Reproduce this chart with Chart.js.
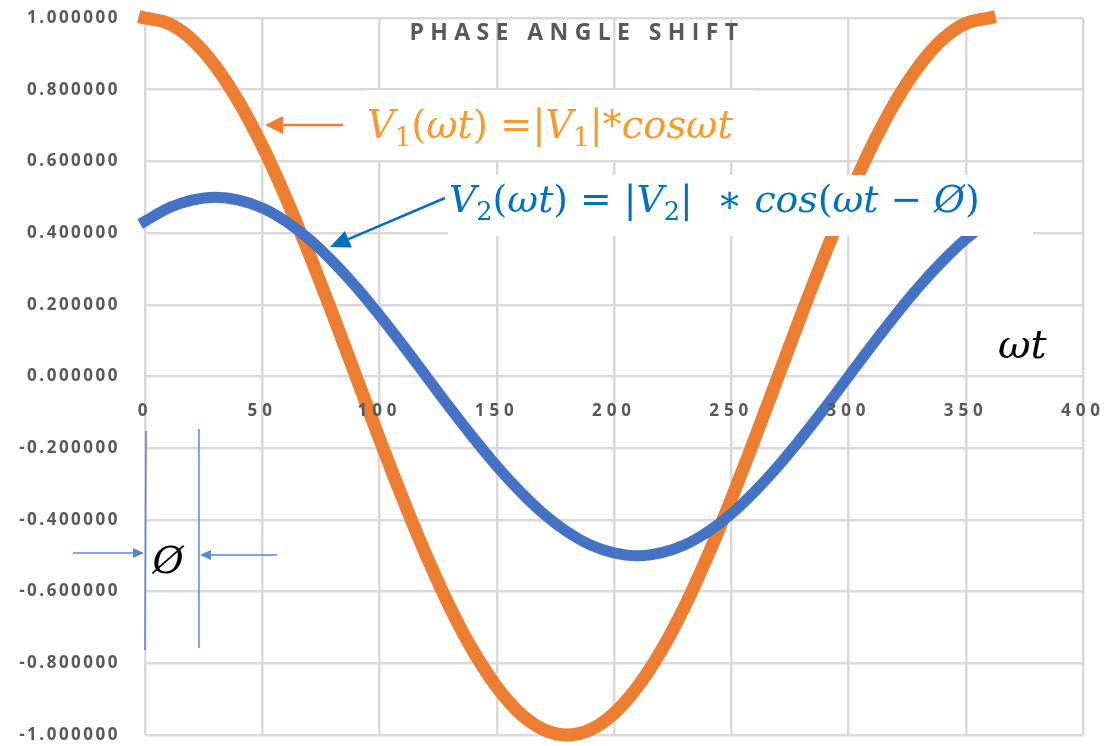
<!DOCTYPE html>
<html>
<head>
<meta charset="utf-8">
<title>Phase Angle Shift</title>
<script src="https://cdn.jsdelivr.net/npm/chart.js@4.4.1/dist/chart.umd.min.js"></script>
<style>
  html, body { margin: 0; padding: 0; background: #ffffff; }
  #wrap { width: 1114px; height: 746px; position: relative; }
</style>
</head>
<body>
<div id="wrap"><canvas id="chart" width="1114" height="746"></canvas></div>
<script>
// Angle samples (degrees) and the two waveforms
const ANGLES = [0, 10, 20, 30, 40, 50, 60, 70, 80, 90, 100, 110, 120, 130, 140, 150, 160, 170, 180,
                190, 200, 210, 220, 230, 240, 250, 260, 270, 280, 290, 300, 310, 320, 330, 340, 350, 360];
const V1 = [1.000, 0.985, 0.940, 0.866, 0.766, 0.643, 0.500, 0.342, 0.174, 0.000,
            -0.174, -0.342, -0.500, -0.643, -0.766, -0.866, -0.940, -0.985, -1.000,
            -0.985, -0.940, -0.866, -0.766, -0.643, -0.500, -0.342, -0.174, 0.000,
            0.174, 0.342, 0.500, 0.643, 0.766, 0.866, 0.940, 0.985, 1.000];
const V2 = [0.433, 0.470, 0.492, 0.500, 0.492, 0.470, 0.433, 0.383, 0.321, 0.250,
            0.171, 0.087, 0.000, -0.087, -0.171, -0.250, -0.321, -0.383, -0.433,
            -0.470, -0.492, -0.500, -0.492, -0.470, -0.433, -0.383, -0.321, -0.250,
            -0.171, -0.087, 0.000, 0.087, 0.171, 0.250, 0.321, 0.383, 0.433];

// Axis settings
const X_MIN = 0, X_MAX = 400, X_STEP = 50;
const Y_MIN = -1, Y_MAX = 1, Y_STEP = 0.2;
const TITLE = 'PHASE ANGLE SHIFT';
const PHASE_DEG = 23;   // width of the phase marker on the angle axis

const GRID = '#d9d9d9';
const AXIS_TEXT = '#595959';
const ORANGE = '#ed7d31';
const BLUE = '#4472c4';

const toPoints = (ys) => ANGLES.map((a, i) => ({ x: a, y: ys[i] }));

// Mixed upright / italic / subscript text run
function richWidth(ctx, segs, size, family) {
  let w = 0;
  for (const s of segs) {
    const fs = s.sub ? size * 0.68 : size;
    ctx.font = (s.it ? 'italic ' : '') + fs + 'px ' + family;
    w += ctx.measureText(s.t).width;
  }
  return w;
}
function drawRich(ctx, segs, x, y, width, family, color) {
  const size = 100 * width / richWidth(ctx, segs, 100, family);
  ctx.fillStyle = color;
  ctx.textAlign = 'left';
  ctx.textBaseline = 'alphabetic';
  let cx = x;
  for (const s of segs) {
    const fs = s.sub ? size * 0.68 : size;
    ctx.font = (s.it ? 'italic ' : '') + fs + 'px ' + family;
    ctx.fillText(s.t, cx, y + (s.sub ? size * 0.2 : 0));
    cx += ctx.measureText(s.t).width;
  }
}
function arrow(ctx, x1, y1, x2, y2, color, lw, headLen, headHalf) {
  const ang = Math.atan2(y2 - y1, x2 - x1);
  const bx = x2 - headLen * Math.cos(ang), by = y2 - headLen * Math.sin(ang);
  ctx.strokeStyle = color;
  ctx.fillStyle = color;
  ctx.lineWidth = lw;
  ctx.beginPath();
  ctx.moveTo(x1, y1);
  ctx.lineTo(bx, by);
  ctx.stroke();
  ctx.beginPath();
  ctx.moveTo(x2, y2);
  ctx.lineTo(bx + headHalf * Math.sin(ang), by - headHalf * Math.cos(ang));
  ctx.lineTo(bx - headHalf * Math.sin(ang), by + headHalf * Math.cos(ang));
  ctx.closePath();
  ctx.fill();
}

const MATH_FONT = '"DejaVu Serif"';
const EQ1 = [{t: 'V', it: 1}, {t: '1', sub: 1}, {t: '('}, {t: 'ωt', it: 1}, {t: ')'}, {t: ' =|'},
             {t: 'V', it: 1}, {t: '1', sub: 1}, {t: '|'}, {t: '*cosωt', it: 1}];
const EQ2 = [{t: 'V', it: 1}, {t: '2', sub: 1}, {t: '('}, {t: 'ωt', it: 1}, {t: ')'}, {t: ' = |'},
             {t: 'V', it: 1}, {t: '2', sub: 1}, {t: '|  '}, {t: '∗ '}, {t: 'cos', it: 1}, {t: '('},
             {t: 'ωt', it: 1}, {t: ' − '}, {t: 'Ø', it: 1}, {t: ')'}];

const annotations = {
  id: 'annotations',
  beforeDraw(chart) {
    chart.ctx.letterSpacing = '2.5px';   // y tick labels
  },
  afterDatasetsDraw(chart) {
    chart.ctx.letterSpacing = '5px';     // x tick labels
  },
  afterDraw(chart) {
    const ctx = chart.ctx;
    const xs = chart.scales.x;
    ctx.save();

    // chart title
    ctx.letterSpacing = '6.4px';
    ctx.font = 'bold 23px "Open Sans"';
    ctx.fillStyle = AXIS_TEXT;
    ctx.textAlign = 'center';
    ctx.textBaseline = 'middle';
    ctx.fillText(TITLE, 577, 33.5);
    ctx.letterSpacing = '0px';

    // equation boxes
    ctx.fillStyle = '#ffffff';
    ctx.fillRect(367, 90, 386, 70);
    ctx.fillRect(448, 175, 585, 61);
    drawRich(ctx, EQ1, 367, 138, 366, MATH_FONT, '#f59a2f');
    drawRich(ctx, EQ2, 449, 212, 531, MATH_FONT, '#0070c0');

    // pointer arrows
    arrow(ctx, 343, 125, 265, 125, ORANGE, 2.5, 18, 9);
    arrow(ctx, 445, 198, 330, 247, '#0070c0', 2.5, 20, 9);

    // phase offset marker
    const px0 = xs.getPixelForValue(0), px1 = xs.getPixelForValue(PHASE_DEG);
    ctx.strokeStyle = '#5b84d4';
    ctx.lineWidth = 1.5;
    ctx.beginPath();
    ctx.moveTo(px0 + 1, 431); ctx.lineTo(px0, 650);
    ctx.moveTo(px1, 429); ctx.lineTo(px1, 648);
    ctx.stroke();
    arrow(ctx, 73, 553, px0 - 1, 553, '#5b84d4', 1.5, 11, 5);
    arrow(ctx, 277, 555, px1 + 1, 555, '#5b84d4', 1.5, 11, 5);

    ctx.fillStyle = '#000000';
    ctx.textAlign = 'center';
    ctx.textBaseline = 'alphabetic';
    ctx.font = 'italic 38px ' + MATH_FONT;
    ctx.fillText('Ø', 168, 573);
    ctx.font = 'italic 40px ' + MATH_FONT;
    ctx.textAlign = 'left';
    ctx.fillText('ωt', 998, 358);

    ctx.restore();
  }
};

new Chart(document.getElementById('chart'), {
  type: 'line',
  data: {
    datasets: [
      {
        label: 'V2',
        data: toPoints(V2),
        borderColor: BLUE,
        backgroundColor: BLUE,
        borderWidth: 11,
        borderCapStyle: 'square',
        pointRadius: 0,
        cubicInterpolationMode: 'monotone',
        clip: false
      },
      {
        label: 'V1',
        data: toPoints(V1),
        borderColor: ORANGE,
        backgroundColor: ORANGE,
        borderWidth: 13,
        borderCapStyle: 'square',
        pointRadius: 0,
        cubicInterpolationMode: 'monotone',
        clip: false
      }
    ]
  },
  options: {
    responsive: false,
    animation: false,
    layout: { padding: { left: 0, top: 18, right: 31, bottom: 11 } },
    plugins: { legend: { display: false }, title: { display: false }, tooltip: { enabled: false } },
    scales: {
      x: {
        type: 'linear',
        position: { y: 0 },
        min: X_MIN, max: X_MAX,
        afterFit: (s) => { s.paddingLeft = 0; s.paddingRight = 0; s.paddingTop = 0; s.paddingBottom = 0; },
        grid: { color: GRID, lineWidth: 2.5, drawTicks: false },
        border: { display: false },
        ticks: {
          stepSize: X_STEP,
          padding: 24,
          z: 1,
          color: AXIS_TEXT,
          font: { family: '"Open Sans"', size: 17, weight: 'bold' },
          maxRotation: 0,
          callback: (v) => String(v)
        }
      },
      y: {
        type: 'linear',
        position: 'left',
        min: Y_MIN, max: Y_MAX,
        afterFit: (s) => { s.width = 145; s.paddingTop = 0; s.paddingBottom = 0; },
        grid: { color: GRID, lineWidth: 2.5, drawTicks: false },
        border: { display: false },
        ticks: {
          stepSize: Y_STEP,
          padding: 25,
          color: AXIS_TEXT,
          font: { family: '"Open Sans"', size: 17, weight: 'bold' },
          callback: (v) => (Math.abs(v) < 1e-9 ? 0 : v).toFixed(6)
        }
      }
    }
  },
  plugins: [annotations]
});
</script>
</body>
</html>
